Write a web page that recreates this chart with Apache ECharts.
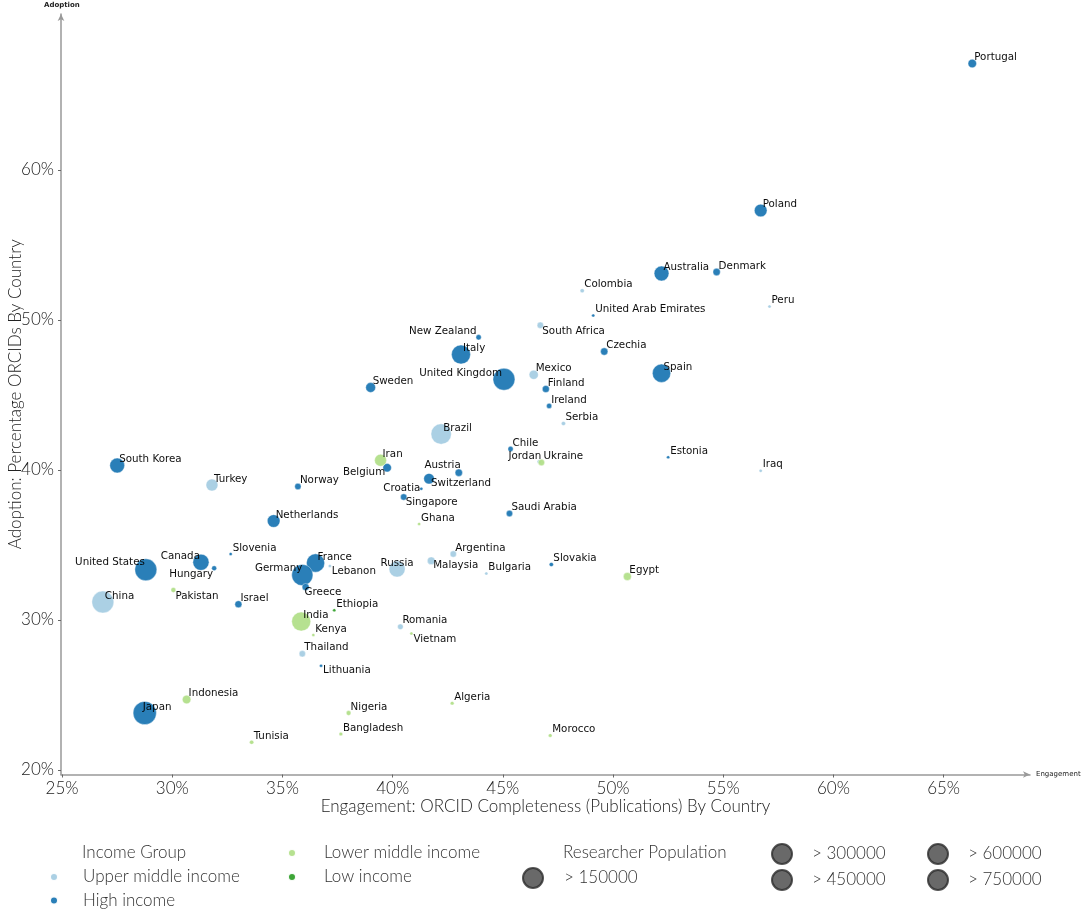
<!DOCTYPE html>
<html lang="en">
<head>
  <meta charset="UTF-8">
  <meta name="viewport" content="width=device-width, initial-scale=1.0">
  <script src="https://cdn.jsdelivr.net/npm/echarts@6.0.0/dist/echarts.min.js"></script>
  <title>ORCID Adoption vs Engagement by Country</title>
  <style>
    html, body { margin: 0; padding: 0; background: #fff; }
    #chart { width: 1084px; height: 914px; }
  </style>
</head>
<body>
<div id="chart"></div>
<script>
// ---- data ----
const countries = [
  'Portugal', 'Poland', 'Australia', 'Denmark', 'Colombia', 'Peru', 'United Arab Emirates',
  'New Zealand', 'South Africa', 'Czechia', 'Italy', 'Mexico', 'Spain', 'Sweden',
  'United Kingdom', 'Finland', 'Ireland', 'Serbia', 'Brazil', 'Chile', 'Estonia', 'Iran',
  'Jordan', 'Ukraine', 'South Korea', 'Belgium', 'Austria', 'Iraq', 'Turkey', 'Norway',
  'Switzerland', 'Croatia', 'Singapore', 'Saudi Arabia', 'Netherlands', 'Ghana', 'Slovenia',
  'Argentina', 'Canada', 'France', 'Slovakia', 'United States', 'Russia', 'Malaysia',
  'Bulgaria', 'Egypt', 'Lebanon', 'Germany', 'Hungary', 'Greece', 'Pakistan', 'China',
  'Israel', 'Ethiopia', 'Romania', 'India', 'Kenya', 'Vietnam', 'Thailand', 'Lithuania',
  'Japan', 'Indonesia', 'Algeria', 'Nigeria', 'Bangladesh', 'Morocco', 'Tunisia'
];
// Engagement: ORCID completeness (publications), %
const engagement = [
  66.3, 56.7, 52.2, 54.7, 48.6, 57.1, 49.1,
  43.9, 46.7, 49.6, 43.1, 46.4, 52.2, 39.0,
  45.05, 46.95, 47.1, 47.75, 42.2, 45.35, 52.5, 39.45,
  46.65, 46.75, 27.5, 39.75, 43.0, 56.7, 31.8, 35.7,
  41.65, 41.3, 40.5, 45.3, 34.6, 41.2, 32.65,
  42.75, 31.3, 36.5, 47.2, 28.8, 40.2, 41.75,
  44.25, 50.65, 37.15, 35.9, 31.9, 36.05, 30.05, 26.85,
  33.0, 37.35, 40.35, 35.85, 36.4, 40.85, 35.9, 36.75,
  28.75, 30.65, 42.7, 38.0, 37.65, 47.15, 33.6
];
// Adoption: percentage ORCIDs, %
const adoption = [
  67.1, 57.3, 53.1, 53.2, 51.95, 50.9, 50.3,
  48.85, 49.65, 47.9, 47.7, 46.35, 46.45, 45.5,
  46.05, 45.4, 44.27, 43.1, 42.4, 41.4, 40.85, 40.65,
  40.55, 40.5, 40.3, 40.15, 39.82, 39.95, 39.0, 38.9,
  39.42, 38.75, 38.2, 37.1, 36.6, 36.4, 34.4,
  34.4, 33.85, 33.8, 33.7, 33.35, 33.4, 33.95,
  33.1, 32.9, 33.6, 33.0, 33.45, 32.2, 32.0, 31.2,
  31.05, 30.65, 29.55, 29.9, 29.0, 29.1, 27.75, 26.95,
  23.8, 24.7, 24.45, 23.8, 22.4, 22.3, 21.85
];
// index into incomeNames
const incomeGroup = [
  1, 1, 1, 1, 0, 0, 1,
  1, 0, 1, 1, 0, 1, 1,
  1, 1, 1, 0, 0, 1, 1, 2,
  0, 2, 1, 1, 1, 0, 0, 1,
  1, 1, 1, 1, 1, 2, 1,
  0, 1, 1, 1, 1, 0, 0,
  0, 2, 0, 1, 1, 1, 2, 0,
  1, 3, 0, 2, 2, 2, 0, 1,
  1, 2, 2, 2, 2, 2, 2
];
// researcher population (marker area)
const researchers = [
  120000, 270000, 365000, 90000, 30000, 17000, 17000,
  46000, 67000, 90000, 600000, 140000, 555000, 160000,
  800000, 83000, 46000, 30000, 690000, 46000, 17000, 237000,
  30000, 67000, 365000, 120000, 91000, 17000, 237000, 67000,
  186000, 17000, 67000, 67000, 268000, 17000, 17000,
  67000, 435000, 555000, 30000, 800000, 435000, 100000,
  17000, 105000, 17000, 750000, 41000, 83000, 41000, 800000,
  83000, 17000, 52000, 600000, 17000, 17000, 67000, 17000,
  900000, 120000, 23000, 38000, 23000, 23000, 30000
];
const incomeNames = ['Upper middle income', 'High income', 'Lower middle income', 'Low income'];
const popLegend = ['> 150000', '> 300000', '> 450000', '> 600000', '> 750000'];
const xTicks = [25, 30, 35, 40, 45, 50, 55, 60, 65];
const yTicks = [20, 30, 40, 50, 60];

// ---- style ----
const incomeColors = ['#a6cee3', '#1f78b4', '#b2df8a', '#33a02c'];
// where each country label sits relative to its point: [dx, dy, align]
const labelShift = {
  'United States': [-1, -7, 'right'],
  'Canada': [-1, -6, 'right'],
  'Hungary': [-1, 6, 'right'],
  'Germany': [0, -7, 'right'],
  'Russia': [0, -6, 'center'],
  'Croatia': [-1, 0, 'right'],
  'Austria': [2, -7, 'right'],
  'Belgium': [-2, 5, 'right'],
  'Jordan': [2, -5, 'right'],
  'United Kingdom': [-2, -6, 'right'],
  'New Zealand': [-2, -6, 'right'],
  'Greece': [-1, 5, 'left'],
  'Lebanon': [2, 5, 'left'],
  'Pakistan': [2, 6, 'left'],
  'Malaysia': [2, 5, 'left'],
  'Vietnam': [2, 6, 'left'],
  'Lithuania': [2, 5, 'left'],
  'Singapore': [2, 5, 'left'],
  'Switzerland': [2, 5, 'left'],
  'South Africa': [2, 6, 'left'],
  'Japan': [-2, -6, 'left']
};

function sizeOf(pop) {
  return Math.max(3, 0.0245 * Math.sqrt(pop));
}

const seriesList = incomeNames.map(function (name, g) {
  const data = [];
  countries.forEach(function (c, i) {
    if (incomeGroup[i] !== g) return;
    const s = labelShift[c] || [2, -6, 'left'];
    data.push({
      name: c,
      value: [engagement[i], adoption[i], researchers[i]],
      label: { offset: [s[0], s[1]], align: s[2] }
    });
  });
  return {
    name: name,
    type: 'scatter',
    data: data,
    symbolSize: function (v) { return sizeOf(v[2]); },
    itemStyle: { color: incomeColors[g], opacity: 0.95, borderColor: '#fff', borderWidth: 0.4 },
    label: {
      show: true,
      position: 'inside',
      formatter: '{b}',
      color: '#000',
      fontFamily: 'DejaVu Sans',
      fontSize: 10.3,
      verticalAlign: 'middle',
      textBorderWidth: 0
    },
    emphasis: { scale: false }
  };
});

// empty series only so the legend can show the population markers
popLegend.forEach(function (p) {
  seriesList.push({
    name: p,
    type: 'scatter',
    data: [],
    itemStyle: { color: '#444', borderColor: '#2a2a2a', borderWidth: 1 }
  });
});

// legend block: dot centre x, first row centre y, dot size, text start x, row step
function legendBlock(names, cx, cy, d, textX, step) {
  const left = cx - d / 2;
  const lineH = 17;
  const itemH = Math.max(d, lineH);
  return {
    data: names,
    orient: 'vertical',
    left: left,
    top: cy - itemH / 2,
    padding: 0,
    itemWidth: d,
    itemHeight: d,
    itemGap: step - itemH,
    icon: 'circle',
    textStyle: {
      fontFamily: 'Lato', fontWeight: 300, fontSize: 17, color: '#333', lineHeight: lineH,
      padding: [0, 0, 0, textX - (left + d + 5)]
    }
  };
}

const chart = echarts.init(document.getElementById('chart'));
chart.setOption({
  animation: false,
  grid: { left: 61, right: 54, top: 14, bottom: 139.5, containLabel: false, outerBoundsMode: 'none' },
  xAxis: {
    type: 'value',
    min: 24.95,
    max: 68.92,
    name: 'Engagement: ORCID Completeness (Publications) By Country',
    nameLocation: 'middle',
    nameGap: 24,
    nameMoveOverlap: false,
    nameTextStyle: { fontFamily: 'Lato', fontWeight: 300, fontSize: 17, color: '#222' },
    splitLine: { show: false },
    axisLine: { lineStyle: { color: '#999', width: 1.5 }, symbol: ['none', 'arrow'], symbolSize: [5, 7] },
    axisTick: { customValues: xTicks, length: 3, lineStyle: { color: '#666' } },
    axisLabel: {
      customValues: xTicks,
      formatter: '{value}%',
      margin: 6,
      fontFamily: 'Lato', fontWeight: 300, fontSize: 17, color: '#222'
    }
  },
  yAxis: {
    type: 'value',
    min: 19.7,
    max: 70.4,
    name: 'Adoption: Percentage ORCIDs By Country',
    nameLocation: 'middle',
    nameGap: 37,
    nameMoveOverlap: false,
    nameTextStyle: { fontFamily: 'Lato', fontWeight: 300, fontSize: 17, color: '#222' },
    splitLine: { show: false },
    axisLine: { lineStyle: { color: '#999', width: 1.5 }, symbol: ['none', 'arrow'], symbolSize: [5, 7] },
    axisTick: { customValues: yTicks, length: 3, lineStyle: { color: '#666' } },
    axisLabel: {
      customValues: yTicks,
      formatter: '{value}%',
      margin: 7,
      fontFamily: 'Lato', fontWeight: 300, fontSize: 17, color: '#222'
    }
  },
  legend: [
    legendBlock([incomeNames[0], incomeNames[1]], 53, 877, 8, 82, 23.5),
    legendBlock([incomeNames[2], incomeNames[3]], 291, 853, 8, 323, 24),
    legendBlock([popLegend[0]], 532, 877, 20, 563, 24),
    legendBlock([popLegend[1], popLegend[2]], 781, 853, 20, 811, 24),
    legendBlock([popLegend[3], popLegend[4]], 937, 853, 20, 967, 24)
  ],
  graphic: [
    { type: 'text', left: 82, top: 844, style: { text: 'Income Group', fontFamily: 'Lato', fontWeight: 300, fontSize: 17, fill: '#333' } },
    { type: 'text', left: 563, top: 844, style: { text: 'Researcher Population', fontFamily: 'Lato', fontWeight: 300, fontSize: 17, fill: '#333' } },
    { type: 'text', left: 44, top: 2, style: { text: 'Adoption', fontFamily: 'DejaVu Sans', fontWeight: 'bold', fontSize: 7, fill: '#222' } },
    { type: 'text', left: 1036, top: 771, style: { text: 'Engagement', fontFamily: 'DejaVu Sans', fontSize: 7, fill: '#222' } }
  ],
  series: seriesList
});
</script>
</body>
</html>
